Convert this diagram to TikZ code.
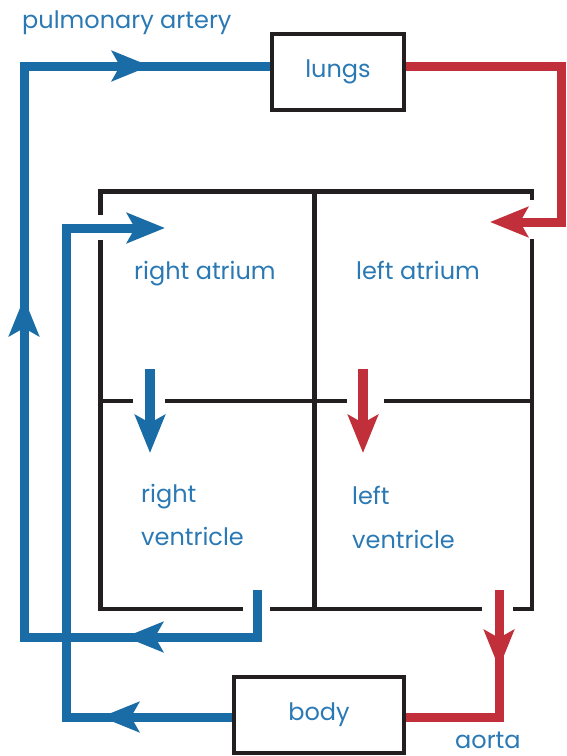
\documentclass[tikz,border=0pt]{standalone}
\usepackage{fontspec}
\setmainfont{Poppins}
\usetikzlibrary{arrows.meta}
\definecolor{flowblue}{HTML}{1A6CA6}
\definecolor{flowred}{HTML}{C1303A}
\definecolor{labelblue}{HTML}{2B79B4}
\definecolor{wallgray}{HTML}{231F20}
\begin{document}
\begin{tikzpicture}[x=1pt,y=-1pt,
    wall/.style={draw=wallgray,line width=4.5pt},
    blueflow/.style={draw=flowblue,line width=9pt},
    redflow/.style={draw=flowred,line width=9pt},
    head/.style={-{Stealth[length=38pt,width=30pt,inset=8pt]}},
    lbl/.style={text=labelblue,inner sep=0pt,font=\fontsize{24}{28}\selectfont},
    organ/.style={lbl,draw=wallgray,line width=4pt}]
        \useasboundingbox (0,0) rectangle (567,756);

        % Lungs and body boxes
        \node[organ,minimum width=132pt,minimum height=76pt] (lungs) at (338,72) {lungs};
        \node[organ,minimum width=170pt,minimum height=76pt] (body) at (319,715) {body};

        % Heart walls (with gaps for the vessels and valves)
        \draw[wall] (100.5,215) -- (100.5,191.5) -- (532,191.5) -- (532,200);
        \draw[wall] (100.5,240) -- (100.5,609) -- (243,609);
        \draw[wall] (270,609) -- (482,609);
        \draw[wall] (513,609) -- (532,609) -- (532,239);
        \draw[wall] (314.5,191.5) -- (314.5,609);
        \draw[wall] (103,401) -- (133,401);
        \draw[wall] (165,401) -- (347,401);
        \draw[wall] (384,401) -- (532,401);

        % Chamber labels
        \node[lbl,anchor=base west] (ratrium) at (134,279) {right atrium};
        \node[lbl,anchor=base west] (latrium) at (356,279) {left atrium};
        \node[lbl,anchor=base west] (rvent1) at (141,502) {right};
        \node[lbl,anchor=base west] (rvent2) at (141,545) {ventricle};
        \node[lbl,anchor=base west] (lvent1) at (352,504) {left};
        \node[lbl,anchor=base west] (lvent2) at (352,548) {ventricle};

        % Vessel labels
        \node[lbl,anchor=base west] (pulm) at (22,28) {pulmonary artery};
        \node[lbl,anchor=base west] (aorta) at (455,748) {aorta};

        % Valves: atrium down to ventricle
        \coordinate (ratop) at (150,369);
        \coordinate (rvtip) at (150,453);
        \coordinate (latop) at (363,369);
        \coordinate (lvtip) at (363,453);
        \draw[blueflow,line width=10pt,head] (ratop) -- (rvtip);
        \draw[redflow,line width=10pt,head] (latop) -- (lvtip);

        % Pulmonary artery: right ventricle to lungs
        \coordinate (rvout) at (257,590);
        \coordinate (rvturn) at (257,637);
        \coordinate (pa1) at (125,637);
        \coordinate (pabl) at (24,637);
        \coordinate (pa2) at (24,298);
        \coordinate (patl) at (24,66);
        \coordinate (pa3) at (150,66);
        \draw[blueflow] (rvout) -- (rvturn) -- (pabl) -- (patl) -- (patl -| lungs.west);
        \draw[blueflow,head] ([xshift=38pt]pa1) -- (pa1);
        \draw[blueflow,head] ([yshift=-38pt]pa2) -- (pa2);
        \draw[blueflow,head] ([xshift=-38pt]pa3) -- (pa3);

        % Pulmonary vein: lungs to left atrium
        \coordinate (pvtr) at (561,66);
        \coordinate (pvbr) at (561,222);
        \coordinate (pvtip) at (490,222);
        \draw[redflow,head] (lungs.east |- pvtr) -- (pvtr) -- (pvbr) -- (pvtip);

        % Vena cava: body to right atrium
        \coordinate (vc1) at (101,717);
        \coordinate (vcbl) at (66,717);
        \coordinate (vctl) at (66,228);
        \coordinate (vctip) at (165,228);
        \draw[blueflow,head] (body.west |- vcbl) -- (vcbl) -- (vctl) -- (vctip);
        \draw[blueflow,head] ([xshift=38pt]vc1) -- (vc1);

        % Aorta: left ventricle to body
        \coordinate (lvout) at (499,590);
        \coordinate (ao1) at (499,668);
        \coordinate (aobr) at (499,717);
        \draw[redflow] (lvout) -- (aobr) -- (body.east |- aobr);
        \draw[redflow,head] ([yshift=36pt]ao1) -- (ao1);
\end{tikzpicture}
\end{document}
